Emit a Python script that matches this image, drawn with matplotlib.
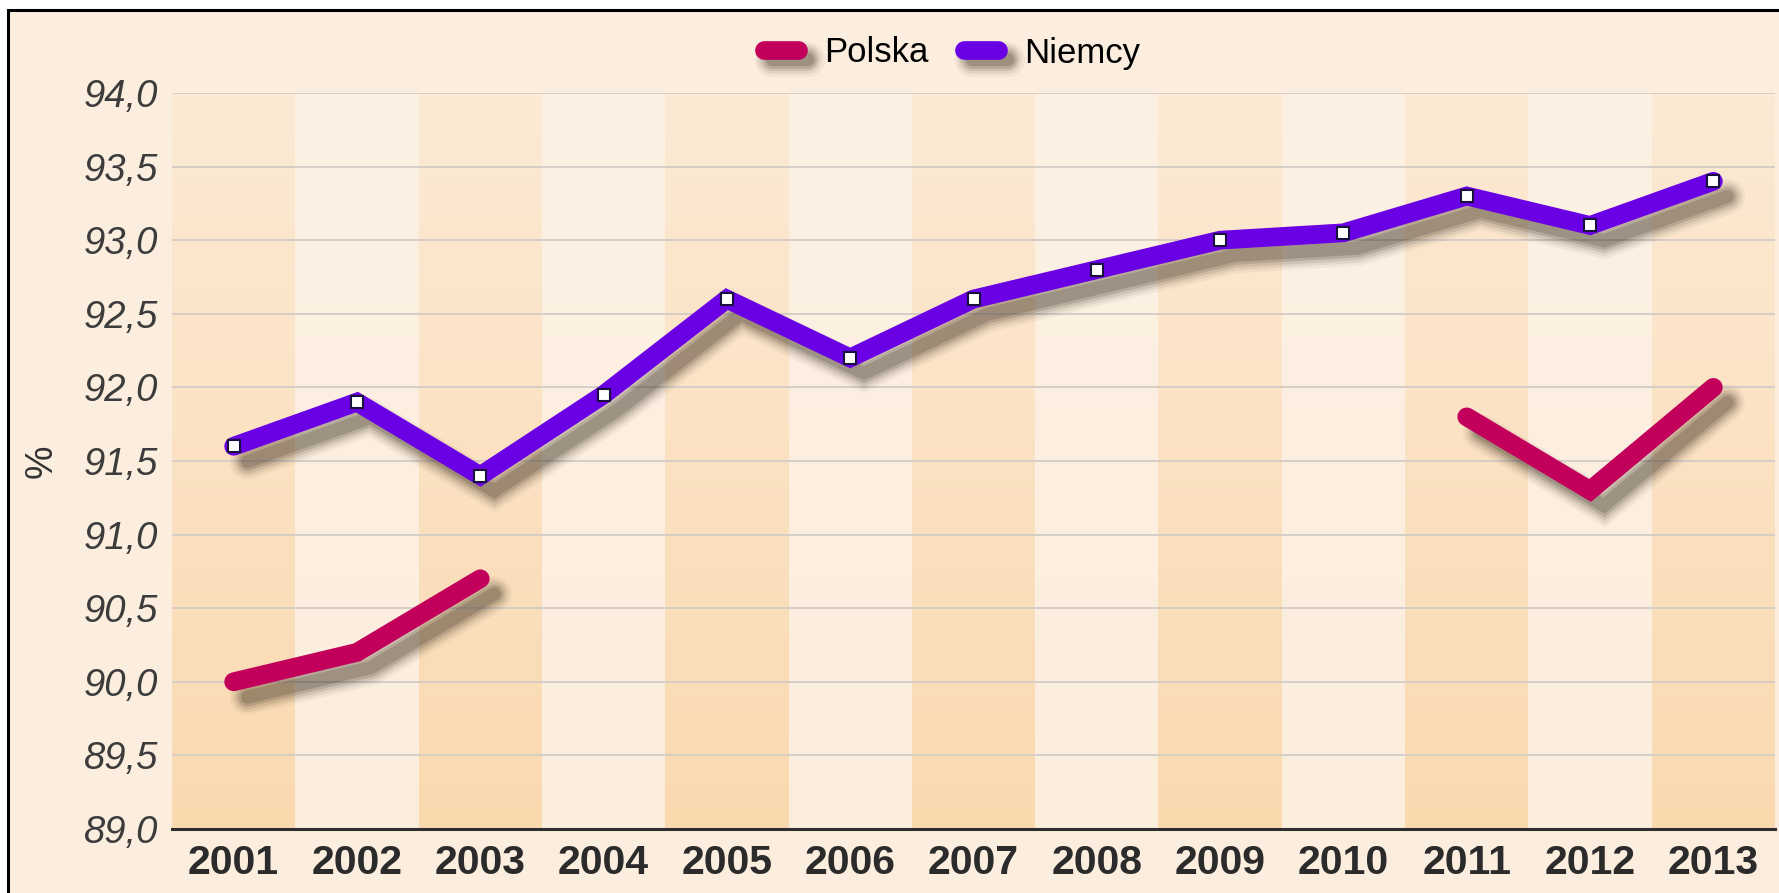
import numpy as np
import matplotlib.pyplot as plt
import matplotlib.patheffects as pe
from matplotlib.patches import Rectangle
from matplotlib.colors import to_rgb

plt.rcParams['font.family'] = ['Liberation Sans', 'DejaVu Sans']

# DADOS
years = list(range(2001, 2014))
polska = [90.0, 90.2, 90.7, np.nan, np.nan, np.nan, np.nan, np.nan, np.nan, np.nan, 91.8, 91.3, 92.0]
niemcy = [91.6, 91.9, 91.4, 91.95, 92.6, 92.2, 92.6, 92.8, 93.0, 93.05, 93.3, 93.1, 93.4]
y_ticks = [89.0, 89.5, 90.0, 90.5, 91.0, 91.5, 92.0, 92.5, 93.0, 93.5, 94.0]
series_names = ['Polska', 'Niemcy']

c_polska = '#C2005C'
c_niemcy = '#6A00E4'
bg = '#FCEEDE'

W, H = 1779, 893
fig = plt.figure(figsize=(W / 100, H / 100), dpi=100)
fig.patch.set_facecolor('white')

# ramka
frame = Rectangle((8 / W, -0.05), 1.0, 1.05 - 10 / H, transform=fig.transFigure,
                  facecolor=bg, edgecolor='black', lw=2.2, zorder=-1)
fig.patches.append(frame)

ax = fig.add_axes([172 / W, 1 - 829 / H, (1775 - 172) / W, (829 - 93) / H])
ax.patch.set_alpha(0)

# pasy tła (gradient pionowy)
n = 200
t = np.linspace(0, 1, n)[:, None]
dark_top, dark_bot = np.array(to_rgb('#FCEAD5')), np.array(to_rgb('#FAD9AF'))
light_top, light_bot = np.array(to_rgb('#FDF1E4')), np.array(to_rgb('#FCEEDD'))
img = np.zeros((n, len(years), 3))
for i in range(len(years)):
    if i % 2 == 0:
        img[:, i] = dark_top * (1 - t) + dark_bot * t
    else:
        img[:, i] = light_top * (1 - t) + light_bot * t
ax.imshow(img, extent=(years[0] - 0.5, years[-1] + 0.5, y_ticks[0], y_ticks[-1]),
          aspect='auto', origin='upper', interpolation='nearest', zorder=0)

ax.hlines(y_ticks[1:], years[0] - 0.5, years[-1] + 0.5, color='#D3CCC6', lw=1.3, zorder=1)


def shadow_fx(lw, off=(10, -11)):
    fx = []
    for extra, a in [(12, 0.05), (8, 0.08), (4, 0.11), (0, 0.16), (-4, 0.2)]:
        fx.append(pe.SimpleLineShadow(offset=off, shadow_color='#3a2e20',
                                      alpha=a, linewidth=max(lw + extra, 1)))
    fx.append(pe.Normal())
    return fx


lw = 13.5
ax.plot(years, polska, color=c_polska, lw=lw, solid_capstyle='round',
        solid_joinstyle='miter', label=series_names[0], zorder=3, path_effects=shadow_fx(lw))
ax.plot(years, niemcy, color=c_niemcy, lw=lw, solid_capstyle='round',
        solid_joinstyle='miter', label=series_names[1], zorder=3, path_effects=shadow_fx(lw))
ax.plot(years, niemcy, 's', ms=8, mfc='white', mec='#1a1040', mew=1.5, zorder=4)

ax.set_xlim(years[0] - 0.5, years[-1] + 0.5)
ax.set_ylim(y_ticks[0], y_ticks[-1])
ax.set_xticks(years)
ax.set_xticklabels([str(y) for y in years], fontsize=29.5, fontweight='bold', color='#2b2b2b')
ax.set_yticks(y_ticks)
ax.set_yticklabels([f"{v:.1f}".replace('.', ',') for v in y_ticks], fontsize=27.5,
                   fontstyle='italic', color='#3c3c3c')
ax.tick_params(axis='x', length=0, pad=11)
ax.tick_params(axis='y', length=0, pad=10)

ax.set_ylabel('%', fontsize=27, color='#333333')
ax.yaxis.set_label_coords(-0.07, 0.5)

for s in ['top', 'right', 'left']:
    ax.spines[s].set_visible(False)
ax.spines['bottom'].set_color('#2e2e2e')
ax.spines['bottom'].set_linewidth(2.2)
ax.spines['bottom'].set_zorder(5)

leg = fig.legend(loc='center', bbox_to_anchor=(952 / W, 1 - 53 / H), ncol=2, frameon=False,
                 fontsize=25, handlelength=1.0, handletextpad=0.75, columnspacing=1.0)
for h in leg.legend_handles:
    h.set_linewidth(13.5)
    h.set_path_effects(shadow_fx(13.5, off=(6, -6)))

fig.savefig('out.png', dpi=100, facecolor=fig.get_facecolor())
